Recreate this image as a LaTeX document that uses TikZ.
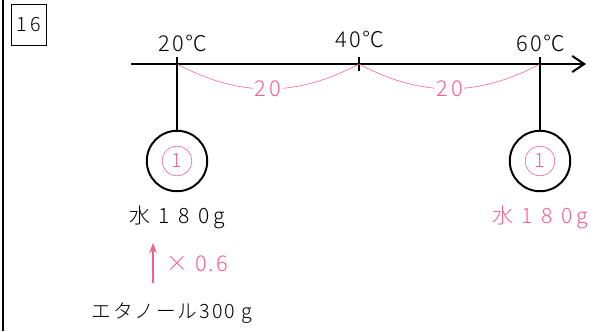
\documentclass[tikz,border=0pt]{standalone}
\usepackage{fontspec}
\usetikzlibrary{arrows.meta,positioning}
\newfontfamily\jp[LetterSpace=10]{Noto Sans CJK JP Light}
\newfontfamily\jpw[LetterSpace=40]{Noto Sans CJK JP Light}
\definecolor{mPink}{RGB}{245,95,140}

\begin{document}
\begin{tikzpicture}[x=0.025cm, y=-0.025cm, >={Stealth[length=2.5mm]},
    lbl/.style={font=\jp\fontsize{14}{16}\selectfont, inner sep=0pt},
    big/.style={font=\jp\fontsize{15.5}{17}\selectfont, inner sep=0pt},
    wide/.style={font=\jpw\fontsize{15}{17}\selectfont, inner sep=0pt},
    rod/.style={line width=1.4pt},
    bulb/.style={circle, draw, line width=1.4pt, minimum size=43pt, inner sep=0pt},
    mark1/.style={circle, draw=mPink, text=mPink, thin, minimum size=21pt, inner sep=0pt,
        font=\jp\fontsize{14}{16}\selectfont}]
    \useasboundingbox (0,0) rectangle (609,331);
    % --- margin line and question number ---
    \draw[line width=1.4pt] (3,0) -- (3,331);
    \node[draw, line width=1.2pt, minimum width=25pt, minimum height=29pt, lbl] (num) at (29,25) {1\,6};
    % --- temperature axis ---
    \coordinate (a0) at (131,64);
    \coordinate (a1) at (586,64);
    \draw[rod, -{Straight Barb[length=3mm, width=4mm]}] (a0) -- (a1);
    \coordinate (t20) at (177,64);
    \coordinate (t40) at (359,64);
    \coordinate (t60) at (540,64);
    \draw[rod] (359,57) -- (359,71);
    \node[big] (l20) at (183,43) {20℃};
    \node[big] (l40) at (360,39) {40℃};
    \node[big] (l60) at (541,43) {60℃};
    % --- differences ---
    \draw[mPink, thin] (t20) to[bend right=28] node[fill=white, big, text=mPink, inner sep=1pt] (d1) {2\,0} (t40);
    \draw[mPink, thin] (t40) to[bend right=28] node[fill=white, big, text=mPink, inner sep=1pt] (d2) {2\,0} (t60);
    % --- the two states ---
    \node[bulb] (c20) at (177,161) {};
    \node[bulb] (c60) at (540,161) {};
    \node[mark1] (m20) at (c20) {1};
    \node[mark1] (m60) at (c60) {1};
    \draw[rod] (177,57) -- (c20);
    \draw[rod] (540,57) -- (c60);
    \node[wide] (w20) at (177,217) {水180\,g};
    \node[wide, text=mPink] (w60) at (540,217) {水180\,g};
    % --- ethanol to water ---
    \node[lbl] (eth) at (172,313) {エタノール300 g};
    \coordinate (f0) at (153,283);
    \coordinate (f1) at (153,243);
    \draw[->, mPink, line width=1.2pt] (f0) -- (f1);
    \node[big, text=mPink, anchor=west] (fac) at (166,264) {× 0.6};
\end{tikzpicture}
\end{document}
